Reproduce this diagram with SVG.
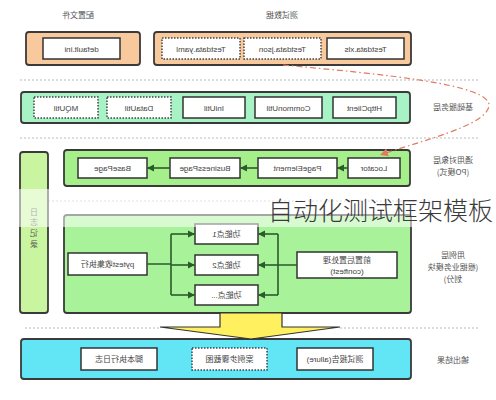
<svg xmlns="http://www.w3.org/2000/svg" width="496" height="400" viewBox="0 0 496 400">
<defs>
<style>
.grp{stroke:#3a3a3a;stroke-width:1.8}
.bx{fill:#fff;stroke:#333;stroke-width:1.5}
.dt{fill:#fff;stroke:#444;stroke-width:1.5;stroke-dasharray:1.5 1.5}
.t{font-family:"Liberation Sans","Noto Sans CJK SC",sans-serif;font-size:8px;fill:#444;text-anchor:middle}
.lb{font-family:"Noto Sans CJK SC",sans-serif;font-size:8px;fill:#555;text-anchor:middle}
.sep{stroke:#bbb;stroke-width:1;stroke-dasharray:2 2;fill:none}
.cn{stroke:#2b5a2b;stroke-width:1.6;fill:none}
</style>
<marker id="ah" markerWidth="8" markerHeight="8" refX="7" refY="4" orient="auto" markerUnits="userSpaceOnUse">
<path d="M0,0.5 L7,4 L0,7.5 Z" fill="#2b5a2b"/>
</marker>
<marker id="oh" markerWidth="9" markerHeight="9" refX="8" refY="4.5" orient="auto" markerUnits="userSpaceOnUse">
<path d="M0,0.5 L8,4.5 L0,8.5 Z" fill="#e07a62"/>
</marker>
</defs>
<rect width="496" height="400" fill="#fff"/>

<g id="separators">
<line class="sep" x1="20" y1="80" x2="480" y2="80"/>
<line class="sep" x1="20" y1="138" x2="480" y2="138"/>
<line class="sep" x1="48" y1="201" x2="480" y2="201"/>
<line class="sep" x1="25" y1="328" x2="160" y2="328"/>
<line class="sep" x1="340" y1="328" x2="480" y2="328"/>
</g>

<g id="labels">
<text class="lb" transform="scale(-1,1)" x="-78" y="18">配置文件</text>
<text class="lb" transform="scale(-1,1)" x="-282" y="18">测试数据</text>
<text class="lb" transform="scale(-1,1)" x="-453" y="110">基础服务层</text>
<text class="lb" transform="scale(-1,1)" x="-453" y="163">通用对象层</text>
<text class="lb" transform="scale(-1,1)" x="-453" y="175">(PO模式)</text>
<text class="lb" transform="scale(-1,1)" x="-453" y="258">用例层</text>
<text class="lb" transform="scale(-1,1)" x="-453" y="270">(根据业务模块</text>
<text class="lb" transform="scale(-1,1)" x="-453" y="282">划分)</text>
<text class="lb" transform="scale(-1,1)" x="-453" y="363">输出结果</text>
</g>

<g id="config">
<rect class="grp" x="26" y="32" width="114" height="33" rx="3" fill="#f7c99c"/>
<rect class="bx" x="43" y="38" width="77" height="21"/>
<text class="t" transform="scale(-1,1)" x="-81.5" y="51.5">default.ini</text>
</g>

<g id="testdata">
<rect class="grp" x="154" y="32" width="257" height="33" rx="3" fill="#f7c99c"/>
<rect class="dt" x="162" y="38" width="78" height="21"/>
<text class="t" transform="scale(-1,1)" x="-201" y="51.5">Testdata.yaml</text>
<rect class="dt" x="244" y="38" width="77" height="21"/>
<text class="t" transform="scale(-1,1)" x="-282.5" y="51.5">Testdata.json</text>
<rect class="bx" x="327" y="38" width="77" height="21"/>
<text class="t" transform="scale(-1,1)" x="-365.5" y="51.5">Testdata.xls</text>
</g>

<g id="base-layer">
<rect class="grp" x="21" y="92" width="389" height="31" rx="3" fill="#a8f3c6"/>
<rect class="dt" x="34" y="97" width="64" height="21"/>
<text class="t" transform="scale(-1,1)" x="-66" y="110.5">MQUtil</text>
<rect class="dt" x="107" y="97" width="64" height="21"/>
<text class="t" transform="scale(-1,1)" x="-139" y="110.5">DataUtil</text>
<rect class="bx" x="183" y="97" width="62" height="21"/>
<text class="t" transform="scale(-1,1)" x="-214" y="110.5">IniUtil</text>
<rect class="bx" x="255" y="97" width="67" height="21"/>
<text class="t" transform="scale(-1,1)" x="-288.5" y="110.5">CommonUtil</text>
<rect class="bx" x="333" y="97" width="63" height="21"/>
<text class="t" transform="scale(-1,1)" x="-364.5" y="110.5">HttpClient</text>
</g>

<g id="log-bar">
<rect class="grp" x="20" y="152" width="28" height="161" rx="3" fill="#c9f5a0"/>
<text class="lb" transform="scale(-1,1)" x="-34" y="215">日</text>
<text class="lb" transform="scale(-1,1)" x="-34" y="225">志</text>
<text class="lb" transform="scale(-1,1)" x="-34" y="236">记</text>
<text class="lb" transform="scale(-1,1)" x="-34" y="247">录</text>
</g>

<g id="po-layer">
<rect class="grp" x="64" y="150" width="346" height="36" rx="3" fill="#a6f08c"/>
<rect class="bx" x="78" y="158" width="69" height="20"/>
<text class="t" transform="scale(-1,1)" x="-112.5" y="171">BasePage</text>
<rect class="bx" x="170" y="158" width="70" height="20"/>
<text class="t" transform="scale(-1,1)" x="-205" y="171">BusinessPage</text>
<rect class="bx" x="258" y="158" width="79" height="20"/>
<text class="t" transform="scale(-1,1)" x="-297.5" y="171">PageElement</text>
<rect class="bx" x="348" y="158" width="52" height="20"/>
<text class="t" transform="scale(-1,1)" x="-374" y="171">Locator</text>
</g>

<g id="usecase-layer">
<rect class="grp" x="64" y="215" width="347" height="98" rx="3" fill="#a8f39a"/>
<rect class="bx" x="68" y="253" width="79" height="22"/>
<text class="t" transform="scale(-1,1)" x="-107.5" y="267">pytest收集执行</text>
<rect class="bx" x="195" y="224" width="63" height="20"/>
<text class="t" transform="scale(-1,1)" x="-226.5" y="237">功能点1</text>
<rect class="bx" x="195" y="255" width="63" height="20"/>
<text class="t" transform="scale(-1,1)" x="-226.5" y="268">功能点2</text>
<rect class="bx" x="195" y="285" width="63" height="20"/>
<text class="t" transform="scale(-1,1)" x="-226.5" y="298">功能点...</text>
<rect class="bx" x="297" y="252" width="100" height="26"/>
<text class="t" transform="scale(-1,1)" x="-347" y="263">前置后置处理</text>
<text class="t" transform="scale(-1,1)" x="-347" y="274">(conftest)</text>
</g>

<g id="output-layer">
<rect class="grp" x="21" y="339" width="390" height="40" rx="3" fill="#62e6f6"/>
<rect class="bx" x="81" y="348" width="76" height="22"/>
<text class="t" transform="scale(-1,1)" x="-119" y="362">脚本执行日志</text>
<rect class="dt" x="192" y="348" width="75" height="22"/>
<text class="t" transform="scale(-1,1)" x="-229.5" y="362">案例步骤截图</text>
<rect class="bx" x="297" y="348" width="76" height="22"/>
<text class="t" transform="scale(-1,1)" x="-335" y="362">测试报告(allure)</text>
</g>

<g id="connectors">
<line class="cn" x1="170" y1="168" x2="147" y2="168" marker-end="url(#ah)"/>
<line class="cn" x1="258" y1="168" x2="240" y2="168" marker-end="url(#ah)"/>
<line class="cn" x1="348" y1="168" x2="337" y2="168" marker-end="url(#ah)"/>
<path class="cn" d="M147,264 H171 M171,234 V295"/>
<line class="cn" x1="171" y1="234" x2="195" y2="234" marker-end="url(#ah)"/>
<line class="cn" x1="171" y1="265" x2="195" y2="265" marker-end="url(#ah)"/>
<line class="cn" x1="171" y1="295" x2="195" y2="295" marker-end="url(#ah)"/>
<path class="cn" d="M297,265 H278 M278,234 V295"/>
<line class="cn" x1="278" y1="234" x2="258" y2="234" marker-end="url(#ah)"/>
<line class="cn" x1="278" y1="265" x2="258" y2="265" marker-end="url(#ah)"/>
<line class="cn" x1="278" y1="295" x2="258" y2="295" marker-end="url(#ah)"/>
<path d="M283,65 C380,74 492,84 489,106 C486,126 420,141 380,155" fill="none" stroke="#e07a62" stroke-width="1.2" stroke-dasharray="6 3 1.5 3" marker-end="url(#oh)"/>
<polygon points="220,313 282,313 282,327 340,327 251,339 160,327 220,327" fill="#fff05f" stroke="#333" stroke-width="1.2"/>
</g>

<g id="overlay">
<rect x="0" y="189" width="496" height="38" fill="#fff" opacity="0.55"/>
<text x="268" y="220" font-family="Noto Sans CJK SC, sans-serif" font-size="25" font-weight="300" fill="#3a3a3a">自动化测试框架模板</text>
</g>
</svg>
